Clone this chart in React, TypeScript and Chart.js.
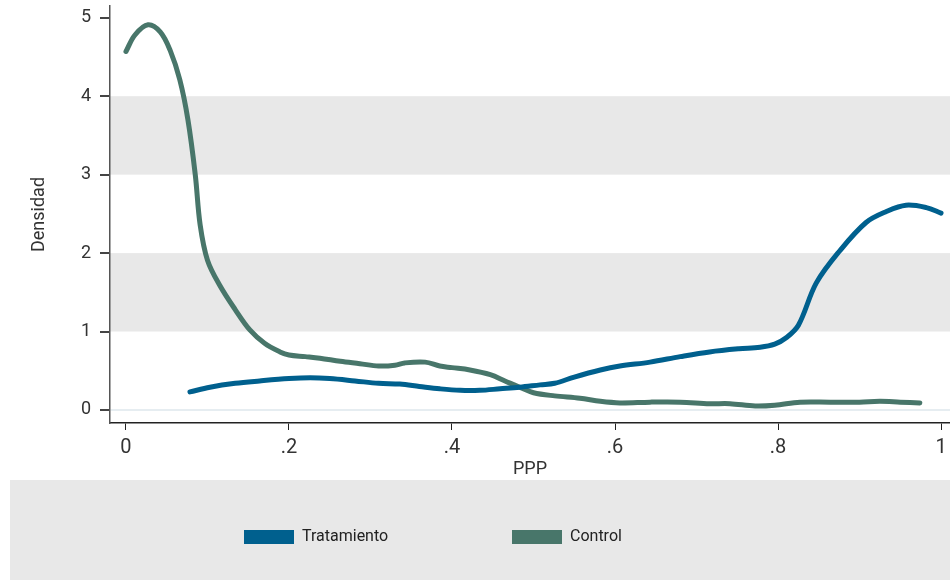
import React, { useEffect, useRef } from "react";
import { Chart, registerables } from "chart.js";

Chart.register(...registerables);

// Kernel density of PPP by group
const controlX = [0.0, 0.011, 0.027, 0.042, 0.054, 0.066, 0.076, 0.085, 0.091, 0.1, 0.115, 0.134, 0.152, 0.17, 0.189, 0.2, 0.22, 0.238, 0.263, 0.287, 0.31, 0.33, 0.342, 0.367, 0.385, 0.4, 0.422, 0.447, 0.465, 0.483, 0.5, 0.526, 0.557, 0.582, 0.606, 0.643, 0.68, 0.716, 0.741, 0.772, 0.796, 0.827, 0.864, 0.9, 0.925, 0.95, 0.974];
const controlY = [4.57, 4.78, 4.91, 4.82, 4.59, 4.21, 3.7, 3.0, 2.36, 1.91, 1.59, 1.28, 1.02, 0.85, 0.74, 0.7, 0.68, 0.66, 0.62, 0.59, 0.56, 0.57, 0.6, 0.61, 0.56, 0.54, 0.51, 0.45, 0.37, 0.29, 0.22, 0.18, 0.15, 0.11, 0.09, 0.1, 0.1, 0.08, 0.08, 0.05, 0.06, 0.1, 0.1, 0.1, 0.11, 0.1, 0.09];

const treatX = [0.0785, 0.103, 0.134, 0.164, 0.2, 0.226, 0.25, 0.281, 0.31, 0.336, 0.36, 0.385, 0.41, 0.434, 0.459, 0.483, 0.508, 0.526, 0.55, 0.582, 0.606, 0.643, 0.68, 0.716, 0.752, 0.778, 0.796, 0.81, 0.825, 0.847, 0.875, 0.908, 0.933, 0.957, 0.982, 1.0];
const treatY = [0.23, 0.29, 0.34, 0.37, 0.4, 0.41, 0.4, 0.37, 0.34, 0.33, 0.3, 0.27, 0.25, 0.25, 0.27, 0.29, 0.32, 0.34, 0.42, 0.51, 0.56, 0.61, 0.68, 0.74, 0.78, 0.8, 0.84, 0.92, 1.08, 1.62, 2.02, 2.39, 2.53, 2.61, 2.58, 2.51];

const xTicks = [0, 0.2, 0.4, 0.6, 0.8, 1];
const xTickLabels = ["0", ".2", ".4", ".6", ".8", "1"];
const yTicks = [0, 1, 2, 3, 4, 5];

const seriesNames = ["Tratamiento", "Control"];
const seriesColors = ["#00608e", "#48766a"];

const FONT = "'Liberation Sans Narrow', 'Arial Narrow', 'Roboto', sans-serif";
const TEXT = "#333333";
const BAND = "#e8e8e8";

const toPoints = (xs: number[], ys: number[]) => xs.map((x, i) => ({ x, y: ys[i] }));

// Alternate shaded bands between y ticks (1–2 and 3–4)
const bandsPlugin = {
  id: "bands",
  beforeDraw(chart: any) {
    const { ctx, chartArea, scales } = chart;
    const y = scales.y;
    ctx.save();
    ctx.fillStyle = BAND;
    for (let v = 1; v < 5; v += 2) {
      const top = y.getPixelForValue(v + 1);
      const bottom = y.getPixelForValue(v);
      ctx.fillRect(chartArea.left, top, chartArea.right - chartArea.left, bottom - top);
    }
    ctx.restore();
  },
};

// Legend panel under the plot
const legendPanelPlugin = {
  id: "legendPanel",
  afterDraw(chart: any) {
    const { ctx } = chart;
    ctx.save();
    ctx.fillStyle = BAND;
    ctx.fillRect(10, 480, 940, 100);
    const items = [
      { x: 244, text: seriesNames[0], color: seriesColors[0] },
      { x: 512, text: seriesNames[1], color: seriesColors[1] },
    ];
    ctx.font = `16px ${FONT}`;
    ctx.textBaseline = "middle";
    ctx.textAlign = "left";
    for (const it of items) {
      ctx.fillStyle = it.color;
      ctx.fillRect(it.x, 530, 50, 14);
      ctx.fillStyle = "#222222";
      ctx.fillText(it.text, it.x + 58, 537);
    }
    ctx.restore();
  },
};

export default function App() {
  const ref = useRef<HTMLCanvasElement | null>(null);

  useEffect(() => {
    document.body.style.margin = "0";
    const canvas = ref.current;
    if (!canvas) return;
    const chart = new Chart(canvas, {
      type: "line",
      data: {
        datasets: [
          {
            label: seriesNames[0],
            data: toPoints(treatX, treatY),
            borderColor: seriesColors[0],
            backgroundColor: seriesColors[0],
            borderWidth: 5,
            pointRadius: 0,
            tension: 0.35,
            borderCapStyle: "round",
          },
          {
            label: seriesNames[1],
            data: toPoints(controlX, controlY),
            borderColor: seriesColors[1],
            backgroundColor: seriesColors[1],
            borderWidth: 5,
            pointRadius: 0,
            tension: 0.35,
            borderCapStyle: "round",
          },
        ],
      },
      options: {
        animation: false,
        responsive: false,
        devicePixelRatio: 1,
        layout: { padding: { top: 6, bottom: 100, left: 0, right: 0 } },
        plugins: { legend: { display: false }, tooltip: { enabled: false } },
        scales: {
          x: {
            type: "linear",
            min: -0.0196,
            max: 1.011,
            afterBuildTicks: (s: any) => {
              s.ticks = xTicks.map((v) => ({ value: v }));
            },
            afterFit: (s: any) => {
              s.height = 57;
              s.paddingLeft = 0;
              s.paddingRight = 0;
            },
            ticks: {
              color: TEXT,
              font: { family: FONT, size: 20 },
              padding: 6,
              callback: (v: any) => {
                const i = xTicks.findIndex((t) => Math.abs(t - Number(v)) < 1e-9);
                return i >= 0 ? xTickLabels[i] : "";
              },
            },
            grid: {
              drawOnChartArea: false,
              tickLength: 7,
              tickColor: "#222222",
            },
            border: { color: "#222222", width: 1.5 },
            title: {
              display: true,
              text: "PPP",
              color: TEXT,
              font: { family: FONT, size: 18 },
              padding: { top: -2, bottom: 0 },
            },
          },
          y: {
            type: "linear",
            min: -0.166,
            max: 5.15,
            afterBuildTicks: (s: any) => {
              s.ticks = yTicks.map((v) => ({ value: v }));
            },
            afterFit: (s: any) => {
              s.width = 110;
              s.paddingTop = 0;
              s.paddingBottom = 0;
            },
            ticks: {
              color: TEXT,
              font: { family: FONT, size: 18 },
              padding: 9,
            },
            grid: {
              color: (c: any) => (c.tick && c.tick.value === 0 ? "#e6edf1" : "rgba(0,0,0,0)"),
              lineWidth: 2,
              tickLength: 10,
              tickColor: "#444444",
            },
            border: { color: "#555555", width: 1.5 },
            title: {
              display: true,
              text: "Densidad",
              color: TEXT,
              font: { family: FONT, size: 18 },
              padding: { top: 29, bottom: 0 },
            },
          },
        },
      },
      plugins: [bandsPlugin, legendPanelPlugin],
    });
    return () => chart.destroy();
  }, []);

  return (
    <div style={{ width: 950, height: 580, background: "#ffffff" }}>
      <canvas ref={ref} width={950} height={580} style={{ display: "block" }} />
    </div>
  );
}
